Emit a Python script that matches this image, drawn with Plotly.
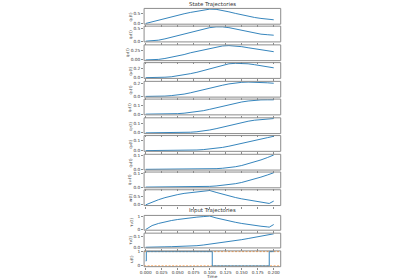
import plotly.graph_objects as go

# ---------------- data ----------------
T = [0.00, 0.01, 0.02, 0.03, 0.04, 0.05, 0.06, 0.07, 0.08, 0.09, 0.10,
     0.11, 0.12, 0.13, 0.14, 0.15, 0.16, 0.17, 0.18, 0.19, 0.20]
T_W = [0.00, 0.01, 0.02, 0.03, 0.04, 0.05, 0.06, 0.07, 0.08, 0.09, 0.10,
       0.11, 0.12, 0.13, 0.14, 0.15, 0.16, 0.17, 0.18, 0.19, 0.193, 0.20]

Q1 = [0, 0.09, 0.18, 0.26, 0.35, 0.43, 0.50, 0.57, 0.63, 0.69, 0.74,
      0.73, 0.68, 0.60, 0.52, 0.44, 0.37, 0.31, 0.26, 0.22, 0.19]
Q2 = [0, 0.01, 0.04, 0.09, 0.15, 0.22, 0.29, 0.36, 0.42, 0.48, 0.52,
      0.55, 0.55, 0.52, 0.47, 0.41, 0.36, 0.31, 0.27, 0.25, 0.23]
Q3 = [0, 0.003, 0.015, 0.04, 0.07, 0.11, 0.15, 0.20, 0.24, 0.28, 0.33,
      0.36, 0.39, 0.40, 0.39, 0.37, 0.34, 0.31, 0.28, 0.25, 0.23]
Q4 = [0, 0.0, 0.003, 0.01, 0.02, 0.04, 0.06, 0.09, 0.12, 0.16, 0.20,
      0.24, 0.28, 0.31, 0.32, 0.32, 0.31, 0.29, 0.27, 0.24, 0.22]
Q5 = [0, 0.0, 0.002, 0.005, 0.012, 0.022, 0.035, 0.055, 0.08, 0.10, 0.125,
      0.15, 0.17, 0.19, 0.205, 0.214, 0.218, 0.217, 0.213, 0.207, 0.20]
Q6 = [0, 0.0, 0.0, 0.001, 0.003, 0.006, 0.011, 0.018, 0.028, 0.04, 0.056,
      0.074, 0.093, 0.11, 0.127, 0.141, 0.152, 0.16, 0.165, 0.166, 0.166]
Q7 = [0, 0.0, 0.0, 0.0, 0.001, 0.002, 0.004, 0.007, 0.012, 0.02, 0.031,
      0.045, 0.062, 0.079, 0.096, 0.111, 0.125, 0.136, 0.144, 0.15, 0.154]
Q8 = [0, 0.0, 0.0, 0.0, 0.0, 0.001, 0.002, 0.003, 0.006, 0.01, 0.015,
      0.022, 0.032, 0.044, 0.057, 0.071, 0.085, 0.10, 0.114, 0.129, 0.143]
Q9 = [0, 0.0, 0.0, 0.0, 0.0, 0.0, 0.0, 0.001, 0.001, 0.002, 0.003,
      0.005, 0.008, 0.012, 0.019, 0.028, 0.04, 0.054, 0.069, 0.086, 0.105]
Q10 = [0, 0.0, 0.0, 0.0, 0.0, 0.0, 0.001, 0.001, 0.002, 0.003, 0.005,
       0.008, 0.012, 0.017, 0.024, 0.033, 0.044, 0.057, 0.071, 0.086, 0.102]
W = [0, 0.17, 0.30, 0.42, 0.52, 0.60, 0.67, 0.72, 0.77, 0.81, 0.84,
     0.73, 0.62, 0.52, 0.43, 0.35, 0.28, 0.21, 0.15, 0.10, 0.08, 0.22]

U1 = [0, 0.30, 0.46, 0.58, 0.68, 0.76, 0.83, 0.89, 0.94, 0.98, 1.02,
      0.88, 0.76, 0.65, 0.55, 0.46, 0.38, 0.31, 0.25, 0.20, 0.18, 0.38]
U2 = [0, 0.003, 0.003, 0.004, 0.005, 0.006, 0.008, 0.011, 0.014, 0.02, 0.027,
      0.034, 0.042, 0.05, 0.059, 0.068, 0.078, 0.088, 0.098, 0.109, 0.12]
U3_T = [0.0, 0.001, 0.104, 0.193, 0.200]
U3 = [0.35, 1, 0, 1, 1]
U3_MIN = 0
U3_MAX = 1

STATE_LABELS = ["q\u2081(t)", "q\u2082(t)", "q\u2083(t)", "q\u2084(t)", "q\u2085(t)",
                "q\u2086(t)", "q\u2087(t)", "q\u2088(t)", "q\u2089(t)", "q\u2081\u2080(t)", "w(t)"]
INPUT_LABELS = ["\u03c4\u2081(t)", "\u03c4\u2082(t)", "u(t)"]

STATE_YTICKS = [[0, 0.5], [0, 0.5], [0, 0.25], [0, 0.2], [0, 0.2],
                [0, 0.1], [0, 0.1], [0, 0.1], [0, 0.1], [0, 0.1], [0, 0.5]]
STATE_YTICKTEXT = [["0.0", "0.5"], ["0.0", "0.5"], ["0.00", "0.25"], ["0.0", "0.2"], ["0.0", "0.2"],
                   ["0.0", "0.1"], ["0.0", "0.1"], ["0.0", "0.1"], ["0.0", "0.1"], ["0.0", "0.1"],
                   ["0.0", "0.5"]]
INPUT_YTICKS = [[0, 1], [0, 0.1], [0, 1]]
INPUT_YTICKTEXT = [["0", "1"], ["0.0", "0.1"], ["0", "1"]]

X_TICKS = [0.0, 0.025, 0.05, 0.075, 0.1, 0.125, 0.15, 0.175, 0.2]
X_TICKTEXT = ["0.000", "0.025", "0.050", "0.075", "0.100", "0.125", "0.150", "0.175", "0.200"]

# ---------------- layout geometry (pixels) ----------------
WID, HEI = 400, 280
X0, X1 = 141.5, 279.5
XR = [-0.0025, 0.2109]
BLUE = "#1f77b4"
ORANGE = "#ff7f0e"
AX = "#8c8c8c"
TXT = "#333333"
FONT = "DejaVu Sans"

panels = []  # (top, bottom), aligned on pixel centres
for i in range(11):
    top = 6 + 18.45 * i
    panels.append((round(top) + 0.5, round(top + 15.9) + 0.5))
for j in range(3):
    top = 216.0 + 18.25 * j
    panels.append((round(top) + 0.5, round(top + 15.0) + 0.5))

state_series = [Q1, Q2, Q3, Q4, Q5, Q6, Q7, Q8, Q9, Q10, W]
state_times = [T] * 10 + [T_W]

fig = go.Figure()
layout = {}
annotations = []
shapes = []


def padded(vals):
    lo, hi = min(vals), max(vals)
    span = hi - lo
    return [lo - 0.05 * span, hi + 0.05 * span]


def add_axes(k, top, bot, yr, ytv, ytt, label, label_x, last=False):
    xa = dict(domain=[X0 / WID, X1 / WID], range=XR, anchor=f"y{k}",
              tickvals=X_TICKS, ticktext=X_TICKTEXT, showticklabels=last,
              ticks="outside", ticklen=2, tickwidth=0.6, tickcolor=AX,
              showline=False, showgrid=False, zeroline=False,
              tickfont=dict(family=FONT, size=4.2, color=TXT))
    if last:
        xa["ticklabelstandoff"] = -1
    ya = dict(domain=[1 - bot / HEI, 1 - top / HEI], range=yr, anchor=f"x{k}",
              tickvals=ytv, ticktext=ytt,
              ticks="outside", ticklen=2, tickwidth=0.6, tickcolor=AX,
              showline=False, showgrid=False, zeroline=False,
              tickfont=dict(family=FONT, size=4.3, color=TXT))
    sfx = "" if k == 1 else str(k)
    layout["xaxis" + sfx] = xa
    layout["yaxis" + sfx] = ya
    shapes.append(dict(type="rect", xref="paper", yref="paper",
                       x0=X0 / WID, x1=X1 / WID, y0=1 - bot / HEI, y1=1 - top / HEI,
                       line=dict(color=AX, width=1), fillcolor="rgba(0,0,0,0)", layer="above"))
    annotations.append(dict(text=label, x=label_x / WID, y=1 - (top + bot) / 2 / HEI,
                            xref="paper", yref="paper", showarrow=False, textangle=-90,
                            xanchor="center", yanchor="middle",
                            font=dict(family=FONT, size=4.2, color=TXT)))


k = 0
for i in range(11):
    k += 1
    top, bot = panels[i]
    fig.add_trace(go.Scatter(x=state_times[i], y=state_series[i], mode="lines",
                             line=dict(color=BLUE, width=0.9), xaxis=f"x{k}", yaxis=f"y{k}",
                             showlegend=False))
    lx = 124.8 if i == 2 else 127.6
    add_axes(k, top, bot, padded(state_series[i]), STATE_YTICKS[i], STATE_YTICKTEXT[i],
             STATE_LABELS[i], lx)

# input 1
k += 1
top, bot = panels[11]
fig.add_trace(go.Scatter(x=T_W, y=U1, mode="lines", line=dict(color=BLUE, width=0.9),
                         xaxis=f"x{k}", yaxis=f"y{k}", showlegend=False))
add_axes(k, top, bot, padded(U1), INPUT_YTICKS[0], INPUT_YTICKTEXT[0], INPUT_LABELS[0], 129.5)

# input 2
k += 1
top, bot = panels[12]
fig.add_trace(go.Scatter(x=T, y=U2, mode="lines", line=dict(color=BLUE, width=0.9),
                         xaxis=f"x{k}", yaxis=f"y{k}", showlegend=False))
add_axes(k, top, bot, padded(U2), INPUT_YTICKS[1], INPUT_YTICKTEXT[1], INPUT_LABELS[1], 127.6)

# input 3 (bang-bang with bounds)
k += 1
top, bot = panels[13]
for b in (U3_MIN, U3_MAX):
    shapes.append(dict(type="line", xref=f"x{k} domain", yref=f"y{k}", x0=0, x1=1, y0=b, y1=b,
                       line=dict(color=ORANGE, width=0.8, dash="2px,1.5px"), layer="below"))
fig.add_trace(go.Scatter(x=U3_T, y=U3, mode="lines", line=dict(color=BLUE, width=0.9, shape="hv"),
                         xaxis=f"x{k}", yaxis=f"y{k}", showlegend=False))
add_axes(k, top, bot, padded([U3_MIN, U3_MAX]), INPUT_YTICKS[2], INPUT_YTICKTEXT[2],
         INPUT_LABELS[2], 129.5, last=True)

cx = (X0 + X1) / 2 / WID
annotations.append(dict(text="State Trajectories", x=cx, y=1 - 3.0 / HEI, xref="paper", yref="paper",
                        showarrow=False, xanchor="center", yanchor="middle",
                        font=dict(family=FONT, size=5.4, color=TXT)))
annotations.append(dict(text="Input Trajectories", x=cx, y=1 - 211.8 / HEI, xref="paper", yref="paper",
                        showarrow=False, xanchor="center", yanchor="middle",
                        font=dict(family=FONT, size=5.4, color=TXT)))
annotations.append(dict(text="Time", x=cx, y=1 - 278.3 / HEI, xref="paper", yref="paper",
                        showarrow=False, xanchor="center", yanchor="middle",
                        font=dict(family=FONT, size=4.2, color=TXT)))

fig.update_layout(**layout)
fig.update_layout(width=WID, height=HEI, margin=dict(l=0, r=0, t=0, b=0),
                  paper_bgcolor="white", plot_bgcolor="white",
                  annotations=annotations, shapes=shapes, showlegend=False)

fig.write_html("out.html")
